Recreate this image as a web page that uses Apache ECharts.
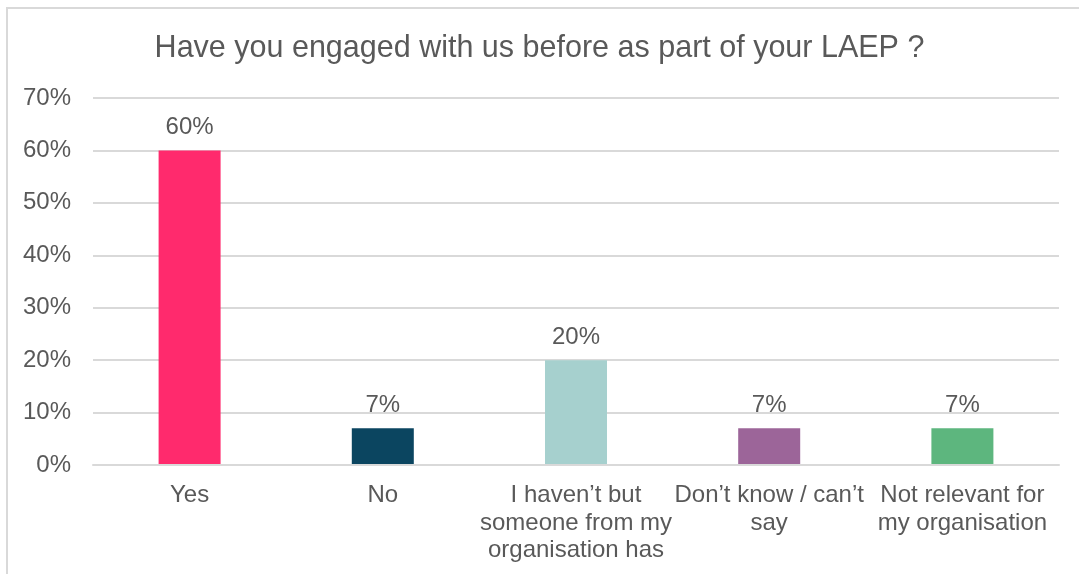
<!DOCTYPE html>
<html>
<head>
<meta charset="utf-8">
<style>
  html, body { margin: 0; padding: 0; background: #ffffff; }
  #chart { width: 1079px; height: 574px; }
</style>
<script src="https://cdn.jsdelivr.net/npm/echarts@6/dist/echarts.min.js"></script>
</head>
<body>
<div id="chart"></div>
<script>
// Survey responses: "Have you engaged with us before as part of your LAEP?"
const categories = [
  'Yes',
  'No',
  'I haven\u2019t but\nsomeone from my\norganisation has',
  'Don\u2019t know / can\u2019t\nsay',
  'Not relevant for\nmy organisation'
];
const values = [60, 7, 20, 7, 7];
const barColors = ['#FF2A6D', '#0B4560', '#A6D0CE', '#9C6599', '#5DB67E'];
const yTicks = [0, 10, 20, 30, 40, 50, 60, 70];

const textColor = '#595959';
const fontFamily = '"Liberation Sans", Arial, sans-serif';

const chart = echarts.init(document.getElementById('chart'), null, { renderer: 'canvas' });

chart.setOption({
  backgroundColor: '#ffffff',
  animation: false,
  title: {
    text: 'Have you engaged with us before as part of your LAEP ?',
    left: 'center',
    top: 28,
    textStyle: { color: textColor, fontFamily, fontSize: 30.5, fontWeight: 'normal' }
  },
  graphic: [{
    type: 'rect',
    silent: true,
    shape: { x: 7, y: 8, width: 1200, height: 700 },
    style: { fill: 'none', stroke: '#D9D9D9', lineWidth: 2 }
  }],
  grid: { left: 93, right: 20, top: 98, bottom: 109, containLabel: false },
  xAxis: {
    type: 'category',
    data: categories,
    axisTick: { show: false },
    axisLine: { show: true, lineStyle: { color: '#D9D9D9', width: 2 } },
    axisLabel: {
      color: textColor, fontFamily, fontSize: 24, lineHeight: 27.5,
      margin: 17, interval: 0, align: 'center'
    },
    z: 3
  },
  yAxis: {
    type: 'value',
    min: yTicks[0],
    max: yTicks[yTicks.length - 1],
    interval: 10,
    axisLine: { show: false },
    axisTick: { show: false },
    splitLine: { lineStyle: { color: '#D9D9D9', width: 2 } },
    axisLabel: {
      color: textColor, fontFamily, fontSize: 24, margin: 22,
      formatter: v => v + '%'
    }
  },
  series: [{
    type: 'bar',
    barWidth: 62,
    data: values.map((v, i) => ({ value: v, itemStyle: { color: barColors[i] } })),
    label: {
      show: true,
      position: 'top',
      distance: 11,
      color: textColor,
      fontFamily,
      fontSize: 24,
      formatter: p => p.value + '%'
    }
  }]
});
</script>
</body>
</html>
